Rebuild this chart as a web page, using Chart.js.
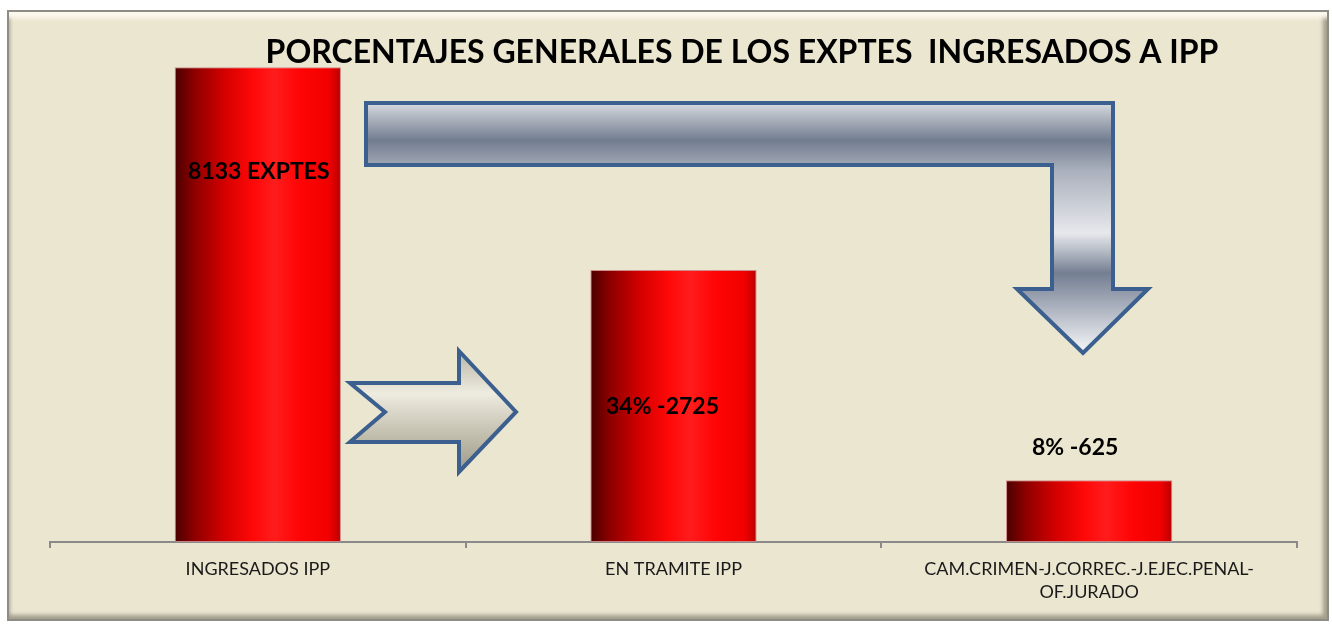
<!DOCTYPE html>
<html lang="es">
  <head>
    <meta charset="UTF-8" />
    <script src="https://cdn.jsdelivr.net/npm/chart.js"></script>
    <title>PORCENTAJES GENERALES</title>
    <style>
      * {
        padding: 0;
        margin: 0;
        box-sizing: border-box;
      }
      body {
        width: 1332px;
        height: 624px;
        background-color: #fff;
        position: relative;
        overflow: hidden;
      }
      .frame {
        position: absolute;
        left: 7px;
        top: 10px;
        width: 1322px;
        height: 611px;
        background-color: #ebe6d0;
        border: 2px solid #8e8c84;
        box-shadow: inset 0 12px 4px -6px #fbf9ee, inset -5px 0 4px -1px #a29e8c,
          inset 0 -5px 4px -1px #a29e8c, inset 4px 0 3px -2px #c9c5b2;
      }
      .chart-box {
        position: absolute;
        left: 0;
        top: 0;
        width: 1332px;
        height: 624px;
      }
    </style>
  </head>
  <body>
    <div class="frame"></div>
    <div class="chart-box">
      <canvas id="myChart"></canvas>
    </div>
    <script>
      // datos
      const categorias = [
        'INGRESADOS IPP',
        'EN TRAMITE IPP',
        ['CAM.CRIMEN-J.CORREC.-J.EJEC.PENAL-', 'OF.JURADO'],
      ];
      const valores = [8133, 4660, 1060];
      const etiquetas = ['8133 EXPTES', '34% -2725', '8% -625'];
      const titulo = 'PORCENTAJES GENERALES DE LOS EXPTES  INGRESADOS A IPP';

      // desplazamiento de cada etiqueta respecto al tope de la barra
      const etiquetaDx = [1, -11, -14];
      const etiquetaDy = [104, 137, -33];

      function rojo(ctx) {
        const chart = ctx.chart;
        if (!chart.chartArea) return '#e00000';
        const x = chart.scales.x.getPixelForValue(ctx.dataIndex);
        const w = (chart.scales.x.width / categorias.length) * 0.4;
        const g = chart.ctx.createLinearGradient(x - w / 2, 0, x + w / 2, 0);
        g.addColorStop(0, '#4a0000');
        g.addColorStop(0.12, '#8e0000');
        g.addColorStop(0.3, '#d40000');
        g.addColorStop(0.47, '#ff0808');
        g.addColorStop(0.6, '#ff1c1c');
        g.addColorStop(0.76, '#ff0404');
        g.addColorStop(0.93, '#f00000');
        g.addColorStop(1, '#b80000');
        return g;
      }

      const tituloPlugin = {
        id: 'titulo',
        afterDraw(chart) {
          const c = chart.ctx;
          c.save();
          c.font = 'bold 32px Lato';
          c.fillStyle = '#000';
          c.textAlign = 'center';
          c.textBaseline = 'alphabetic';
          c.fillText(titulo, 742, 63);
          c.restore();
        },
      };

      const etiquetasPlugin = {
        id: 'etiquetas',
        afterDatasetsDraw(chart) {
          const c = chart.ctx;
          const meta = chart.getDatasetMeta(0);
          c.save();
          c.font = 'bold 23px Lato';
          c.fillStyle = '#000';
          c.textAlign = 'center';
          c.textBaseline = 'middle';
          meta.data.forEach((bar, i) => {
            c.fillText(etiquetas[i], bar.x + etiquetaDx[i], bar.y + etiquetaDy[i]);
          });
          c.restore();
        },
      };

      // flechas decorativas
      const flechasPlugin = {
        id: 'flechas',
        afterDatasetsDraw(chart) {
          const c = chart.ctx;
          c.save();
          c.lineWidth = 4;
          c.lineJoin = 'miter';
          c.strokeStyle = '#3b5f8e';

          // flecha derecha
          c.beginPath();
          c.moveTo(350, 383);
          c.lineTo(459, 383);
          c.lineTo(459, 351);
          c.lineTo(516, 412);
          c.lineTo(459, 472);
          c.lineTo(459, 442);
          c.lineTo(350, 442);
          c.lineTo(385, 412);
          c.closePath();
          let g = c.createLinearGradient(0, 351, 0, 472);
          g.addColorStop(0, '#b9b5a4');
          g.addColorStop(0.35, '#eeebe0');
          g.addColorStop(0.65, '#c8c4b4');
          g.addColorStop(1, '#9d998a');
          c.fillStyle = g;
          c.fill();
          c.stroke();

          // flecha doblada
          c.beginPath();
          c.moveTo(366, 103);
          c.lineTo(1113, 103);
          c.lineTo(1113, 289);
          c.lineTo(1148, 289);
          c.lineTo(1083, 353);
          c.lineTo(1017, 289);
          c.lineTo(1052, 289);
          c.lineTo(1052, 165);
          c.lineTo(366, 165);
          c.closePath();
          g = c.createLinearGradient(0, 103, 0, 353);
          g.addColorStop(0, '#d6d9df');
          g.addColorStop(0.15, '#727d90');
          g.addColorStop(0.27, '#aab0bc');
          g.addColorStop(0.52, '#e6e8ec');
          g.addColorStop(0.6, '#b0b6c1');
          g.addColorStop(0.68, '#737e92');
          g.addColorStop(1, '#f6f7f9');
          c.fillStyle = g;
          c.fill();
          c.stroke();
          c.restore();
        },
      };

      const config = {
        type: 'bar',
        data: {
          labels: categorias,
          datasets: [
            {
              data: valores,
              backgroundColor: rojo,
              borderColor: 'rgba(205,130,130,0.9)',
              borderWidth: 1,
              borderSkipped: false,
              barPercentage: 0.4,
              categoryPercentage: 1,
            },
          ],
        },
        options: {
          responsive: false,
          animation: false,
          layout: {
            padding: { left: 50, right: 35, top: 40, bottom: 10 },
          },
          plugins: {
            legend: { display: false },
            tooltip: { enabled: false },
          },
          scales: {
            x: {
              grid: {
                display: true,
                drawOnChartArea: false,
                offset: true,
                color: '#8a8a8a',
                lineWidth: 2,
                tickLength: 6,
              },
              border: { color: '#8a8a8a', width: 2 },
              ticks: {
                color: '#1a1a1a',
                font: { family: 'Lato', size: 18, lineHeight: 1.3 },
                padding: 9,
                maxRotation: 0,
                autoSkip: false,
              },
              afterFit(scale) {
                scale.height = 72;
              },
            },
            y: {
              display: false,
              min: 0,
              max: 8600,
            },
          },
        },
        plugins: [flechasPlugin, etiquetasPlugin, tituloPlugin],
      };

      const cv = document.getElementById('myChart');
      cv.width = 1332;
      cv.height = 624;
      const myChart = new Chart(cv, config);
    </script>
  </body>
</html>
